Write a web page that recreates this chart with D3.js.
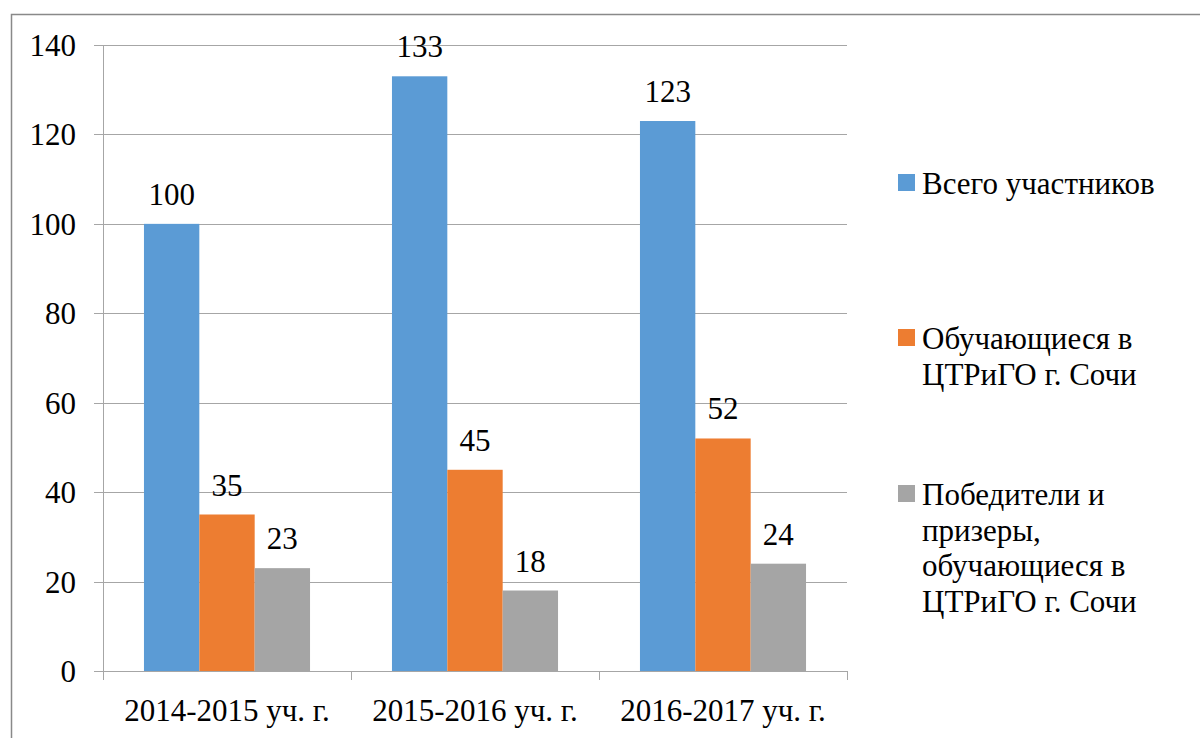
<!DOCTYPE html>
<html>
<head>
<meta charset="utf-8">
<script src="https://cdn.jsdelivr.net/npm/d3@7"></script>
<style>
  body { margin: 0; background: #fff; }
</style>
</head>
<body>
<svg id="chart"></svg>
<script>
// chart data
var years = ["2014-2015 уч. г.", "2015-2016 уч. г.", "2016-2017 уч. г."];
var seriesNames = [
  ["Всего участников"],
  ["Обучающиеся в", "ЦТРиГО г. Сочи"],
  ["Победители и", "призеры,", "обучающиеся в", "ЦТРиГО г. Сочи"]
];
var total = [100, 133, 123];
var students = [35, 45, 52];
var winners = [23, 18, 24];
var yTicks = [0, 20, 40, 60, 80, 100, 120, 140];

var colors = ["#5B9BD5", "#ED7D31", "#A5A5A5"];
var series = [total, students, winners];

var width = 1200, height = 738;
var plot = {left: 103, right: 847, top: 45, bottom: 671};
var FONT = "'Liberation Serif', 'Times New Roman', Times, serif";
var FS = 31;

var svg = d3.select("#chart").attr("width", width).attr("height", height)
  .attr("font-family", FONT);

// outer frame
svg.append("rect")
  .attr("x", 11.5).attr("y", 14.5)
  .attr("width", 1200).attr("height", 800)
  .attr("fill", "none").attr("stroke", "#898989").attr("stroke-width", 1.5);

var x = d3.scaleBand().domain(years).range([plot.left, plot.right]);
var xInner = d3.scaleBand().domain([0, 1, 2]).range([0, x.bandwidth()]).paddingOuter(0.74);
var y = d3.scaleLinear().domain([0, 140]).range([plot.bottom, plot.top]);

// gridlines
svg.append("g").selectAll("line").data(yTicks).join("line")
  .attr("x1", plot.left - 9).attr("x2", plot.right)
  .attr("y1", function(d){ return Math.round(y(d)) + 0.5; })
  .attr("y2", function(d){ return Math.round(y(d)) + 0.5; })
  .attr("stroke", "#A6A6A6").attr("stroke-width", 1);

// y axis line
svg.append("line")
  .attr("x1", plot.left + 0.5).attr("x2", plot.left + 0.5)
  .attr("y1", plot.top).attr("y2", plot.bottom)
  .attr("stroke", "#A6A6A6");

// y labels
svg.append("g").selectAll("text").data(yTicks).join("text")
  .attr("x", 76).attr("y", function(d){ return y(d) + 11; })
  .attr("text-anchor", "end").attr("font-size", FS)
  .text(function(d){ return d; });

// x category tick marks
var bounds = years.map(function(d){ return x(d); }).concat([plot.right]);
svg.append("g").selectAll("line").data(bounds).join("line")
  .attr("x1", function(d){ return Math.round(d) + 0.5; })
  .attr("x2", function(d){ return Math.round(d) + 0.5; })
  .attr("y1", plot.bottom).attr("y2", plot.bottom + 9)
  .attr("stroke", "#A6A6A6");

// bars
series.forEach(function(vals, si) {
  var g = svg.append("g");
  g.selectAll("rect").data(vals).join("rect")
    .attr("x", function(d, i){ return x(years[i]) + xInner(si); })
    .attr("y", function(d){ return y(d); })
    .attr("width", xInner.bandwidth())
    .attr("height", function(d){ return y(0) - y(d); })
    .attr("fill", colors[si]);
  g.selectAll("text").data(vals).join("text")
    .attr("x", function(d, i){ return x(years[i]) + xInner(si) + xInner.bandwidth() / 2; })
    .attr("y", function(d){ return y(d) - 19; })
    .attr("text-anchor", "middle").attr("font-size", FS)
    .text(function(d){ return d; });
});

// x labels
svg.append("g").selectAll("text").data(years).join("text")
  .attr("x", function(d){ return x(d) + x.bandwidth() / 2; })
  .attr("y", 721)
  .attr("text-anchor", "middle").attr("font-size", FS)
  .text(function(d){ return d; });

// legend
var legendY = [174, 329, 485];
seriesNames.forEach(function(lines, i) {
  var g = svg.append("g");
  g.append("rect")
    .attr("x", 898).attr("y", legendY[i])
    .attr("width", 17).attr("height", 17)
    .attr("fill", colors[i]);
  g.selectAll("text").data(lines).join("text")
    .attr("x", 922)
    .attr("y", function(d, k){ return legendY[i] + 20 + k * 35.5; })
    .attr("font-size", FS)
    .text(function(d){ return d; });
});
</script>
</body>
</html>
